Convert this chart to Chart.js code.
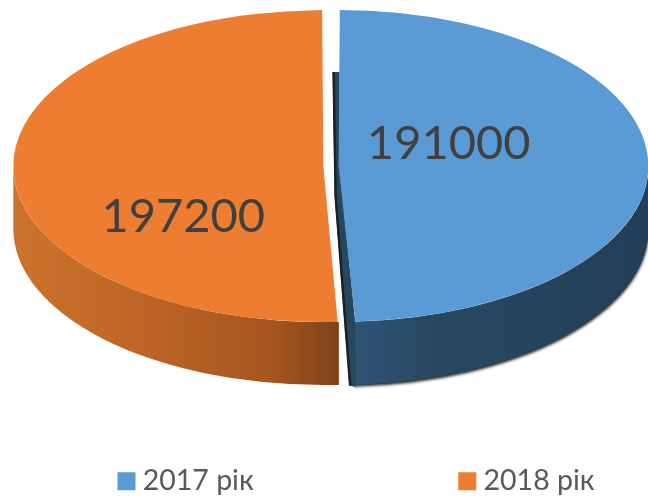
<!DOCTYPE html>
<html>
<head>
<meta charset="utf-8">
<style>html,body{margin:0;padding:0;background:#fff}canvas{display:block}</style>
<script src="https://cdn.jsdelivr.net/npm/chart.js@4"></script>
</head>
<body>
<canvas id="c" width="648" height="498"></canvas>
<script>
const categories = ['2017 рік', '2018 рік'];
const values = [191000, 197200];
const topColors = ['#5b9bd5', '#ed7d31'];

const VIEW = {cx: 331, cy: 166, rx: 310, ry: 156, depth: 63};
const LABEL_OFFSET = [[110, -22], [-140, 51]];
const LEGEND_GAP = '\u00a0'.repeat(29);

function drawnRadius(el) {
  const off = (el.options.offset || 0) / 4;
  return el.outerRadius + off;
}
function project(el) {
  const half = (el.startAngle + el.endAngle) / 2;
  const off = (el.options.offset || 0) / 4;
  const R = drawnRadius(el);
  const sx = VIEW.rx / R, sy = VIEW.ry / R;
  return {x: VIEW.cx + Math.cos(half) * off * sx, y: VIEW.cy + Math.sin(half) * off * sy};
}
function wall(ctx, el, fill) {
  const p = project(el);
  const a = Math.max(el.startAngle, 0), b = Math.min(el.endAngle, Math.PI);
  ctx.beginPath();
  ctx.ellipse(p.x, p.y, VIEW.rx, VIEW.ry, 0, a, b);
  ctx.ellipse(p.x, p.y + VIEW.depth, VIEW.rx, VIEW.ry, 0, b, a, true);
  ctx.closePath();
  ctx.fillStyle = fill;
  ctx.fill();
}
const pie3d = {
  id: 'pie3d',
  beforeDatasetsDraw(chart) {
    const ctx = chart.ctx;
    const els = chart.getDatasetMeta(0).data;
    const [blue, orange] = els;
    const pb = project(blue);

    const go = ctx.createLinearGradient(12, 0, 338, 0);
    go.addColorStop(0, '#cc732e');
    go.addColorStop(0.45, '#bb6325');
    go.addColorStop(0.8, '#a4561f');
    go.addColorStop(1, '#7f4318');
    wall(ctx, orange, go);

    const gb = ctx.createLinearGradient(356, 0, 648, 0);
    gb.addColorStop(0, '#2f5474');
    gb.addColorStop(0.25, '#284862');
    gb.addColorStop(1, '#233f57');
    ctx.save();
    ctx.shadowColor = 'rgba(0,0,0,0.85)';
    ctx.shadowBlur = 3;
    ctx.shadowOffsetX = 0;
    ctx.shadowOffsetY = 2;
    wall(ctx, blue, gb);
    ctx.restore();

    // cut face of the blue slice, seen through the gap
    const bx = pb.x + Math.cos(blue.endAngle) * VIEW.rx;
    const by = pb.y + Math.sin(blue.endAngle) * VIEW.ry;
    ctx.beginPath();
    ctx.moveTo(pb.x - 6, pb.y - 94);
    ctx.lineTo(pb.x + 1, pb.y - 94);
    ctx.lineTo(pb.x + 1, pb.y);
    ctx.lineTo(bx + 1, by);
    ctx.lineTo(bx + 2, by + VIEW.depth + 2);
    ctx.lineTo(bx - 5, by + VIEW.depth + 1);
    ctx.lineTo(pb.x - 4, pb.y + 30);
    ctx.closePath();
    ctx.fillStyle = '#27475f';
    ctx.fill();
    ctx.beginPath();
    ctx.moveTo(pb.x - 5, pb.y - 94);
    ctx.lineTo(pb.x - 3, pb.y + 30);
    ctx.lineTo(bx - 4, by + VIEW.depth + 1);
    ctx.strokeStyle = '#1b2226';
    ctx.lineWidth = 2.5;
    ctx.stroke();

    const e = els[0];
    const R = drawnRadius(e);
    ctx.save();
    ctx.translate(VIEW.cx, VIEW.cy);
    ctx.scale(VIEW.rx / R, VIEW.ry / R);
    ctx.translate(-e.x, -e.y);
  },
  afterDatasetsDraw(chart) {
    const ctx = chart.ctx;
    ctx.restore();
    chart.getDatasetMeta(0).data.forEach((el, i) => {
      const p = project(el);
      ctx.fillStyle = '#404040';
      ctx.font = '47px Lato, Carlito, "Open Sans", sans-serif';
      ctx.textAlign = 'center';
      ctx.textBaseline = 'middle';
      ctx.fillText(String(values[i]), p.x + LABEL_OFFSET[i][0], p.y + LABEL_OFFSET[i][1]);
    });
  }
};

new Chart(document.getElementById('c'), {
  type: 'pie',
  data: {
    labels: categories,
    datasets: [{
      data: values,
      backgroundColor: topColors,
      borderWidth: 0,
      offset: 22.5,
      clip: false
    }]
  },
  options: {
    responsive: false,
    animation: false,
    rotation: 0,
    layout: {padding: {left: 71}},
    plugins: {
      tooltip: {enabled: false},
      legend: {
        position: 'bottom',
        maxHeight: 31,
        labels: {
          font: {family: 'Lato, Carlito, "Open Sans", sans-serif', size: 28.5},
          color: '#595959',
          padding: 0,
          boxWidth: 4,
          boxHeight: 4,
          generateLabels() {
            return categories.map((t, i) => ({
              text: i === 0 ? t + LEGEND_GAP : t,
              fillStyle: topColors[i],
              strokeStyle: topColors[i],
              lineWidth: 14,
              fontColor: '#595959',
              index: i
            }));
          }
        }
      }
    }
  },
  plugins: [pie3d]
});
</script>
</body>
</html>
